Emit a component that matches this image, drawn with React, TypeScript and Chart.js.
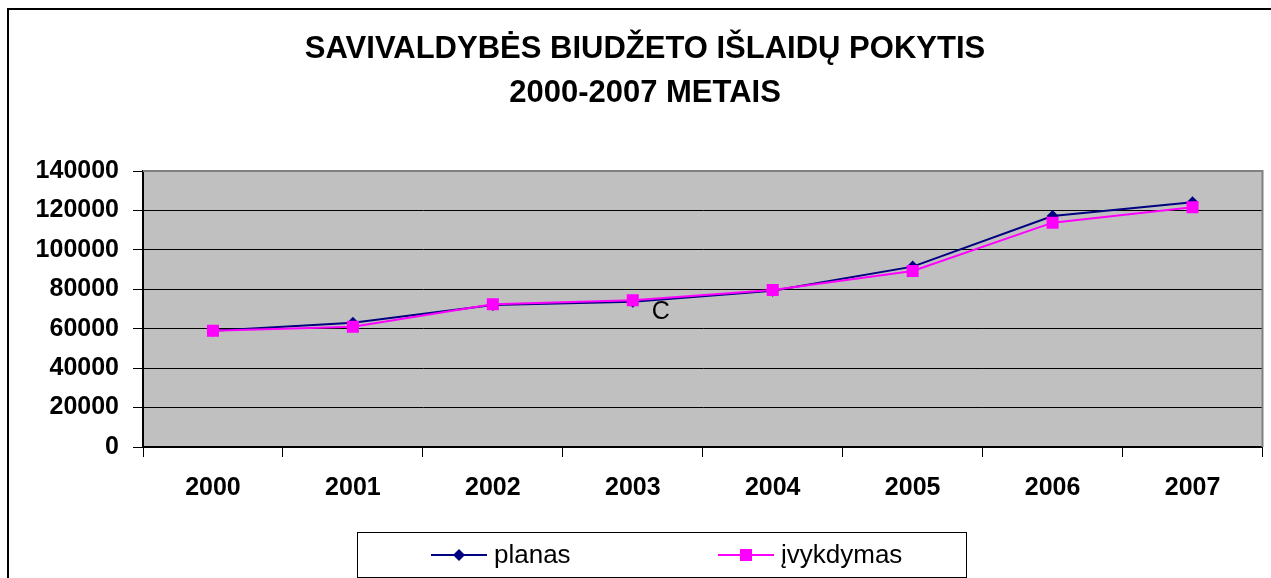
import React, { useEffect, useRef } from "react";
import { Chart, registerables } from "chart.js";

Chart.register(...registerables);

const categories = ["2000", "2001", "2002", "2003", "2004", "2005", "2006", "2007"];
const planas = [59000, 63000, 72000, 73700, 79300, 91500, 117200, 124100];
const ivykdymas = [59000, 61000, 72400, 74400, 79600, 89300, 113800, 121600];
const titleLines = ["SAVIVALDYBĖS BIUDŽETO IŠLAIDŲ POKYTIS", "2000-2007 METAIS"];
const legendLabels = ["planas", "įvykdymas"];
const annotationText = "C";

const FONT = "'Liberation Sans', Arial, sans-serif";
const NAVY = "#000080";
const MAGENTA = "#FF00FF";

const decorPlugin = {
  id: "decor",
  beforeDraw(chart: any) {
    const { ctx, chartArea } = chart;
    ctx.save();
    ctx.fillStyle = "#ffffff";
    ctx.fillRect(0, 0, chart.width, chart.height);
    ctx.fillStyle = "#C0C0C0";
    ctx.fillRect(chartArea.left, chartArea.top, chartArea.right - chartArea.left, chartArea.bottom - chartArea.top);
    ctx.strokeStyle = "#000";
    ctx.lineWidth = 2;
    ctx.beginPath();
    ctx.moveTo(8, chart.height + 5);
    ctx.lineTo(8, 9);
    ctx.lineTo(chart.width + 5, 9);
    ctx.stroke();
    ctx.restore();
  },
  afterDraw(chart: any) {
    const { ctx, chartArea, scales } = chart;
    ctx.save();
    ctx.strokeStyle = "#808080";
    ctx.lineWidth = 2;
    ctx.beginPath();
    ctx.moveTo(chartArea.left, chartArea.top);
    ctx.lineTo(chartArea.right, chartArea.top);
    ctx.lineTo(chartArea.right, chartArea.bottom);
    ctx.stroke();

    ctx.fillStyle = "#000";
    ctx.textAlign = "center";
    ctx.textBaseline = "middle";
    ctx.font = `bold 31px ${FONT}`;
    ctx.fillText(titleLines[0], 645, 49);
    ctx.fillText(titleLines[1], 645, 93);

    const xs = scales.x;
    const ys = scales.y;
    ctx.font = `25px ${FONT}`;
    ctx.textAlign = "left";
    const ax = xs.getPixelForValue(3) + 19;
    const ay = ys.getPixelForValue(ivykdymas[3]) + 12;
    ctx.fillText(annotationText, ax, ay);

    ctx.strokeStyle = "#000";
    ctx.lineWidth = 1;
    ctx.strokeRect(357.5, 532.5, 609, 45);
    const ly = 555;
    const items = [
      { label: legendLabels[0], color: NAVY, x: 431, shape: "diamond" },
      { label: legendLabels[1], color: MAGENTA, x: 718, shape: "square" },
    ];
    ctx.font = `26px ${FONT}`;
    ctx.textAlign = "left";
    ctx.textBaseline = "middle";
    for (const it of items) {
      ctx.strokeStyle = it.color;
      ctx.fillStyle = it.color;
      ctx.lineWidth = 2;
      ctx.beginPath();
      ctx.moveTo(it.x, ly);
      ctx.lineTo(it.x + 56, ly);
      ctx.stroke();
      const cx = it.x + 28;
      ctx.beginPath();
      if (it.shape === "diamond") {
        ctx.moveTo(cx - 6, ly);
        ctx.lineTo(cx, ly - 6);
        ctx.lineTo(cx + 6, ly);
        ctx.lineTo(cx, ly + 6);
        ctx.closePath();
      } else {
        ctx.rect(cx - 6, ly - 6, 12, 12);
      }
      ctx.fill();
      ctx.fillStyle = "#000";
      ctx.fillText(it.label, it.x + 63, ly + 1);
    }
    ctx.restore();
  },
};

export default function App() {
  const ref = useRef<HTMLCanvasElement | null>(null);
  useEffect(() => {
    if (!ref.current) return;
    const chart = new Chart(ref.current, {
      type: "line",
      data: {
        labels: categories,
        datasets: [
          {
            label: legendLabels[0],
            data: planas,
            borderColor: NAVY,
            backgroundColor: NAVY,
            borderWidth: 2,
            pointStyle: "rectRot",
            pointRadius: 6,
            pointBorderWidth: 0,
            order: 1,
          },
          {
            label: legendLabels[1],
            data: ivykdymas,
            borderColor: MAGENTA,
            backgroundColor: MAGENTA,
            borderWidth: 2,
            pointStyle: "rect",
            pointRadius: 8.5,
            pointBorderWidth: 0,
            order: 0,
          },
        ],
      },
      options: {
        animation: false,
        responsive: false,
        devicePixelRatio: 1,
        layout: { padding: { top: 171, right: 8, left: 0, bottom: 0 } },
        plugins: { legend: { display: false }, title: { display: false }, tooltip: { enabled: false } },
        scales: {
          x: {
            type: "category",
            offset: true,
            grid: { offset: true, drawOnChartArea: false, drawTicks: true, tickLength: 10, color: "#000" },
            border: { color: "#000", width: 2 },
            ticks: { color: "#000", font: { family: FONT, size: 25, weight: "bold" }, padding: 16, maxRotation: 0 },
            afterFit: (s: any) => { s.height = 131; },
          },
          y: {
            min: 0,
            max: 140000,
            grid: { color: "#000", lineWidth: 1, tickLength: 10 },
            border: { color: "#000", width: 2 },
            ticks: {
              stepSize: 20000,
              color: "#000",
              font: { family: FONT, size: 25, weight: "bold" },
              padding: 14,
              callback: (v: any) => String(v),
            },
            afterFit: (s: any) => { s.width = 143; },
          },
        },
      },
      plugins: [decorPlugin],
    });
    return () => chart.destroy();
  }, []);
  return (
    <div style={{ position: "fixed", left: 0, top: 0, width: 1271, height: 578, background: "#fff" }}>
      <canvas ref={ref} width={1271} height={578} style={{ width: 1271, height: 578, display: "block" }} />
    </div>
  );
}
